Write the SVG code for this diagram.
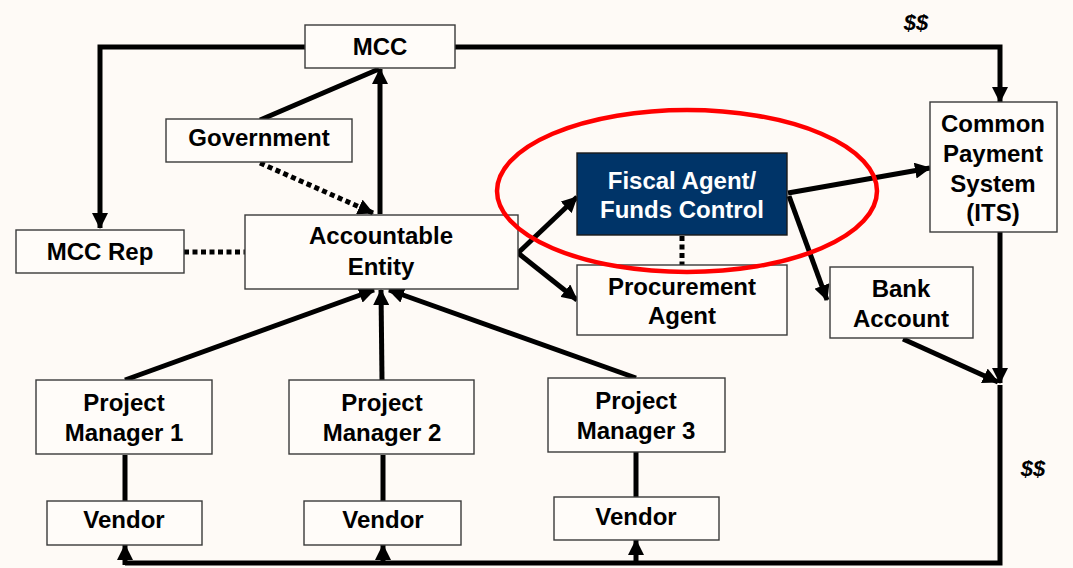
<svg xmlns="http://www.w3.org/2000/svg" width="1073" height="568" viewBox="0 0 1073 568">
<defs>
<marker id="ah" markerUnits="userSpaceOnUse" markerWidth="16" markerHeight="16" refX="15" refY="8" orient="auto">
<path d="M0,0 L16,8 L0,16 z" fill="#000"/>
</marker>
<style>
.box{fill:#FFFCF9;stroke:#3a3a3a;stroke-width:1.4}
.dark{fill:#003468;stroke:#1a1a1a;stroke-width:1.4}
.t{font-family:"Liberation Sans",Arial,sans-serif;font-weight:bold;font-size:24px;fill:#000;text-anchor:middle}
.w{fill:#fff}
.c{fill:none;stroke:#000;stroke-width:5}
.d{fill:none;stroke:#000;stroke-width:5;stroke-dasharray:5 3.5}
.m{marker-end:url(#ah)}
.ds{font-family:"Liberation Sans",Arial,sans-serif;font-weight:bold;font-style:italic;font-size:22px;fill:#000;text-anchor:middle}
</style>
</defs>
<rect width="1073" height="568" fill="#FEFAF6"/>
<g id="connectors">
<path class="c" d="M305,47 L100,47 L100,228" marker-end="url(#ah)"/>
<path class="c m" d="M455,47 L1000,47 L1000,102"/>
<path class="c" d="M260,120 L379,69"/>
<path class="c m" d="M380,214 L380,69"/>
<path class="d m" d="M260,163 L373,213"/>
<path class="d" d="M184,252 L245,252"/>
<path class="c m" d="M125,380 L374,290"/>
<path class="c m" d="M382,380 L381,290"/>
<path class="c m" d="M636,378 L389,290"/>
<path class="c m" d="M518,253 L577,197"/>
<path class="c m" d="M518,253 L577,300"/>
<path class="d" d="M682,236 L682,265"/>
<path class="c m" d="M788,193 L930,168"/>
<path class="c m" d="M789,196 L827,300"/>
<path class="c m" d="M903,339 L998,382"/>
<path class="c m" d="M1000,232 L1000,383"/>
<path class="c" d="M1000,385 L1000,563 L125,563"/>
<path class="c m" d="M125,565 L125,545"/>
<path class="c m" d="M383,565 L383,545"/>
<path class="c m" d="M636,565 L636,540"/>
<path class="c" d="M125,455 L125,501"/>
<path class="c" d="M383,455 L383,501"/>
<path class="c" d="M636,452 L636,497"/>
</g>
<g id="mcc"><rect class="box" x="305" y="25" width="150" height="43"/><text class="t" x="380" y="55">MCC</text></g>
<g id="government"><rect class="box" x="166" y="119" width="186" height="43"/><text class="t" x="259" y="146">Government</text></g>
<g id="mcc-rep"><rect class="box" x="16" y="230" width="168" height="43"/><text class="t" x="100" y="260">MCC Rep</text></g>
<g id="accountable-entity"><rect class="box" x="245" y="215" width="273" height="74"/><text class="t" x="381" y="244">Accountable</text><text class="t" x="381" y="275">Entity</text></g>
<g id="fiscal-agent"><rect class="dark" x="577" y="153" width="210" height="82"/><text class="t w" x="682" y="189">Fiscal Agent/</text><text class="t w" x="682" y="218">Funds Control</text></g>
<g id="procurement-agent"><rect class="box" x="577" y="265" width="210" height="70"/><text class="t" x="682" y="295">Procurement</text><text class="t" x="682" y="324">Agent</text></g>
<g id="common-payment-system"><rect class="box" x="930" y="102" width="127" height="130"/><text class="t" x="993" y="132">Common</text><text class="t" x="993" y="162">Payment</text><text class="t" x="993" y="192">System</text><text class="t" x="993" y="221">(ITS)</text></g>
<g id="bank-account"><rect class="box" x="830" y="267" width="143" height="71"/><text class="t" x="901" y="297">Bank</text><text class="t" x="901" y="327">Account</text></g>
<g id="pm1"><rect class="box" x="36" y="380" width="176" height="74"/><text class="t" x="124" y="411">Project</text><text class="t" x="124" y="441">Manager 1</text></g>
<g id="pm2"><rect class="box" x="289" y="380" width="185" height="74"/><text class="t" x="382" y="411">Project</text><text class="t" x="382" y="441">Manager 2</text></g>
<g id="pm3"><rect class="box" x="548" y="378" width="177" height="74"/><text class="t" x="636" y="409">Project</text><text class="t" x="636" y="439">Manager 3</text></g>
<g id="vendor1"><rect class="box" x="47" y="501" width="155" height="44"/><text class="t" x="124" y="528">Vendor</text></g>
<g id="vendor2"><rect class="box" x="304" y="501" width="157" height="44"/><text class="t" x="383" y="528">Vendor</text></g>
<g id="vendor3"><rect class="box" x="554" y="497" width="165" height="43"/><text class="t" x="636" y="525">Vendor</text></g>
<g id="highlight"><ellipse cx="687" cy="191" rx="190" ry="81" fill="none" stroke="#FF0000" stroke-width="4.5"/></g>
<text class="ds" x="916" y="30">$$</text>
<text class="ds" x="1033" y="476">$$</text>
</svg>
